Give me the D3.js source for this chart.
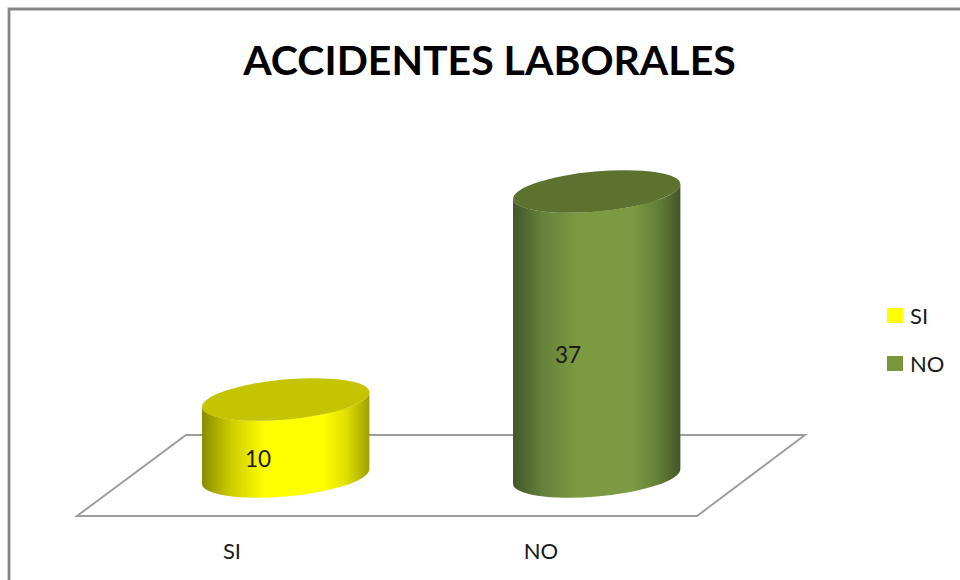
<!DOCTYPE html>
<html><head><meta charset="utf-8">
<script src="https://cdn.jsdelivr.net/npm/d3@7/dist/d3.min.js"></script>
<style>html,body{margin:0;background:#fff}svg{display:block}text{font-family:Lato,"Open Sans",sans-serif;fill:#1a1a1a}</style>
</head><body><svg id="c" width="960" height="580"></svg>
<script>
const title = "ACCIDENTES LABORALES";
const categories = ["SI", "NO"];
const values = [10, 37];
const sideColors = [["#8a8a00","#cccc00","#ffff00","#ffff00","#e0e000","#a0a000"],["#43552a","#64803a","#7b9a41","#7b9a41","#64803a","#435524"]];
const topColors = ["#c4c400", "#5d722e"];
const legendColors = ["#ffff00", "#7b973b"];

const svg = d3.select("#c");
const defs = svg.append("defs");
const x = d3.scalePoint().domain(categories).range([285.7, 596.7]);
const y = d3.scaleLinear().domain([0, 37]).range([476.5, 191.5]);

svg.append("path").attr("d","M9,580V9H960").attr("fill","none").attr("stroke","#858585").attr("stroke-width",2.8);
svg.append("path").attr("d",d3.line()([[77,516],[186,435],[805,435],[697,516]])+"Z")
  .attr("fill","#fff").attr("stroke","#9c9c9c").attr("stroke-width",1.9);

const a=84, b=20, th=-5.2*Math.PI/180;
const W=Math.sqrt(a*a*Math.cos(th)**2+b*b*Math.sin(th)**2);
const dy=(a*a-b*b)*Math.sin(th)*Math.cos(th)/W;
categories.forEach((c,i)=>{
  const cx=x(c), top=y(values[i]), base=y(0);
  const g=defs.append("linearGradient").attr("id","g"+i);
  [0,0.17,0.38,0.72,0.86,1].forEach((o,k)=>g.append("stop").attr("offset",o).attr("stop-color",sideColors[i][k]));
  const rot=th*180/Math.PI;
  const arc=(px,py,sw)=>`A${a},${b} ${rot} 0 ${sw} ${px},${py}`;
  svg.append("path").attr("fill",`url(#g${i})`)
    .attr("d",`M${cx-W},${top-dy}L${cx-W},${base-dy}${arc(cx+W,base+dy,0)}L${cx+W},${top+dy}${arc(cx-W,top-dy,1)}Z`);
  svg.append("ellipse").attr("cx",cx).attr("cy",top).attr("rx",a).attr("ry",b)
    .attr("transform",`rotate(${rot} ${cx} ${top})`).attr("fill",topColors[i]);
});
const labelPos=[[258,459],[568,355]];
svg.selectAll(".v").data(values).join("text").attr("class","v")
  .attr("x",(d,i)=>labelPos[i][0]).attr("y",(d,i)=>labelPos[i][1]).attr("dy","0.35em")
  .attr("text-anchor","middle").attr("font-size",22.5).text(d=>d);
const catX=[232,541];
svg.selectAll(".c").data(categories).join("text").attr("class","c")
  .attr("x",(d,i)=>catX[i]).attr("y",551).attr("dy","0.35em")
  .attr("text-anchor","middle").attr("font-size",22).text(d=>d);
svg.append("text").attr("x",489.5).attr("y",61).attr("dy","0.35em").attr("text-anchor","middle")
  .attr("font-size",41).attr("font-weight",700).style("fill","#000").text(title);
const leg=svg.selectAll(".l").data(categories).join("g").attr("class","l")
  .attr("transform",(d,i)=>`translate(887,${d3.scalePoint().domain(categories).range([308,356])(d)})`);
leg.append("rect").attr("width",16).attr("height",15).attr("fill",(d,i)=>legendColors[i]);
leg.append("text").attr("x",23).attr("y",8).attr("dy","0.35em").attr("font-size",22).text(d=>d);
</script></body></html>
